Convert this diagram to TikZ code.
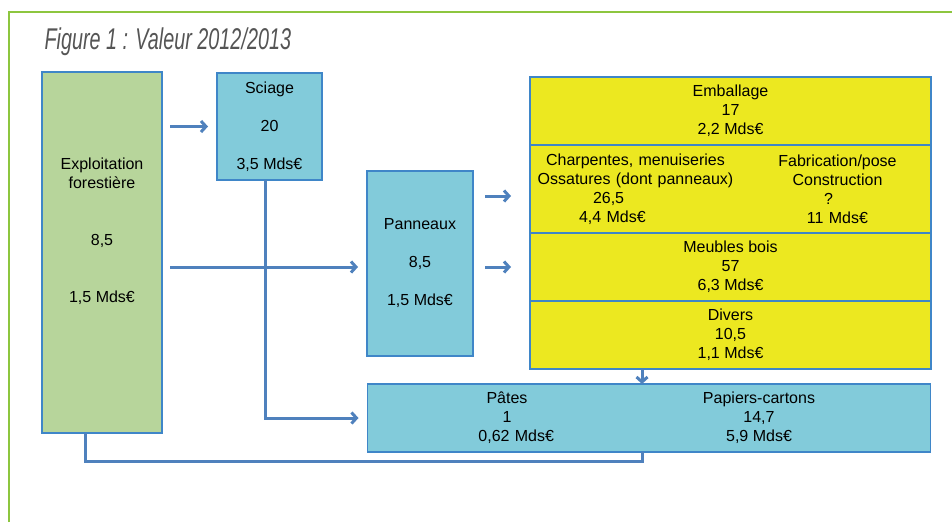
\documentclass[tikz,border=0pt]{standalone}
\usepackage{fontspec}
\setmainfont{Liberation Sans}
\usetikzlibrary{positioning,arrows.meta}
\definecolor{framegreen}{HTML}{8DC63F}
\definecolor{woodgreen}{HTML}{B7D59B}
\definecolor{boxblue}{HTML}{82CBDA}
\definecolor{boxline}{HTML}{3F86C8}
\definecolor{yelfill}{HTML}{ECE820}
\definecolor{flowblue}{HTML}{4F81BD}
\definecolor{titlegray}{HTML}{555555}

\begin{document}
\begin{tikzpicture}
    [x=1pt,y=-1pt,>={Straight Barb[length=5pt,width=11pt]},
     box/.style={rectangle,draw=boxline,line width=1.2pt,outer sep=0pt,inner sep=0pt,
       align=center,font=\fontsize{16}{19}\selectfont},
     wood/.style={box,fill=woodgreen},
     indus/.style={box,fill=boxblue},
     usage/.style={box,fill=yelfill,minimum width=401pt,minimum height=68pt},
     txt/.style={align=center,inner sep=0pt,font=\fontsize{16}{19}\selectfont},
     flow/.style={draw=flowblue,line width=3pt},
     frame/.style={draw=framegreen,line width=2.5pt}]
    \useasboundingbox (0,0) rectangle (952,522);
    \draw[frame] (9,522) -- (9,12) -- (952,12);
    \node[anchor=base west,text=titlegray,font=\fontsize{30}{34}\selectfont\itshape] (title) at (41,49)
      {\scalebox{0.66}[1]{Figure 1 : Valeur 2012/2013}};

    \node[wood,minimum width=120pt,minimum height=361pt] (forest) at (102,252.5)
      {Exploitation\\forestière\\[38pt]8,5\\[38pt]1,5 Mds€\\[19pt]\strut};
    \node[indus,minimum width=105pt,minimum height=107pt] (sciage) at (269.5,126.5)
      {Sciage\\[19pt]20\\[19pt]3,5 Mds€};
    \node[indus,minimum width=106pt,minimum height=185pt] (panneaux) at (420,263.5)
      {Panneaux\\[19pt]8,5\\[19pt]1,5 Mds€};

    \node[usage] (emb) at (730.5,111) {Emballage\\17\\2,2 Mds€};
    \node[usage,minimum height=88pt] (charp) [below=0pt of emb] {};
    \node[txt,text width=210pt] (charpl) at ([xshift=-95pt]charp.center)
      {Charpentes, menuiseries\\Ossatures (dont panneaux)\\\makebox[85pt][l]{26,5}\\\makebox[113pt][l]{4,4 Mds€}};
    \node[txt,text width=140pt] (charpr) at ([xshift=107pt]charp.center)
      {Fabrication/pose\\Construction\\\makebox[27pt][l]{?}\\11 Mds€};
    \node[usage] (meubles) [below=0pt of charp] {Meubles bois\\57\\6,3 Mds€};
    \node[usage] (divers) [below=0pt of meubles] {Divers\\10,5\\1,1 Mds€};

    \node[indus,minimum width=563pt,minimum height=68pt] (pates) at (649,418) {};
    \node[txt,text width=120pt] (patesl) at ([xshift=-142pt]pates.center) {Pâtes\\1\\\makebox[94pt][r]{0,62 Mds€}};
    \node[txt] (patesr) at ([xshift=110pt]pates.center) {Papiers-cartons\\14,7\\5,9 Mds€};

    \coordinate (charpin) at ([yshift=-7pt]charp.west);
    \coordinate (drop) at ([xshift=-7pt]pates.north);
    \coordinate (back) at ([xshift=-7pt]pates.south);

    \draw[flow,->,shorten <=8pt,shorten >=9pt] (forest.east |- sciage.west) -- (sciage.west);
    \draw[flow,->,shorten <=8pt,shorten >=9pt] (forest.east |- meubles.west) -- (panneaux.west |- meubles.west);
    \draw[flow,->,shorten >=9pt] ([xshift=-4pt]sciage.south) |- (pates.west);
    \draw[flow,->,shorten <=12pt,shorten >=19pt] (panneaux.east |- charpin) -- (charpin);
    \draw[flow,->,shorten <=12pt,shorten >=19pt] (panneaux.east |- meubles.west) -- (meubles.west);
    \draw[flow,->] (drop |- divers.south) -- (drop);
    \draw[flow] ([xshift=-17pt]forest.south) -- ++(0,28) -| (back);
\end{tikzpicture}
\end{document}
